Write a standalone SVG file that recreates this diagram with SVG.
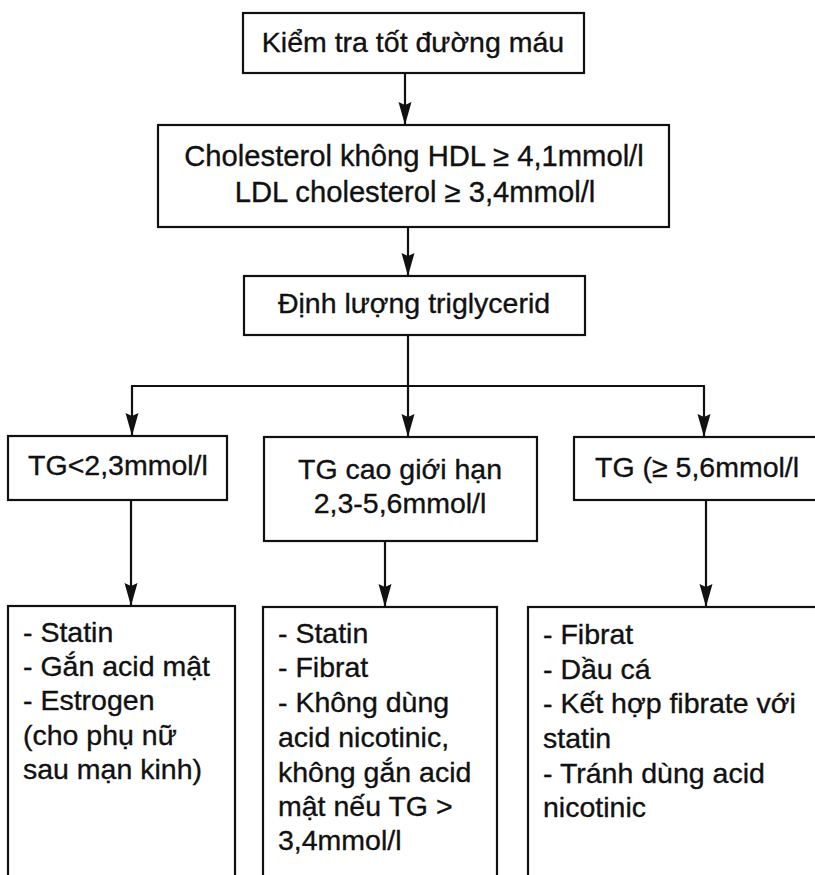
<svg xmlns="http://www.w3.org/2000/svg" width="815" height="875" viewBox="0 0 815 875">
<style>
  .box { fill: #ffffff; stroke: #111111; stroke-width: 2.2; }
  .t { font-family: "Liberation Sans", Arial, sans-serif; font-size: 28.5px; fill: #111111; stroke: #111111; stroke-width: 0.35; }
  .c { text-anchor: middle; }
  .ln { stroke: #111111; stroke-width: 2.2; fill: none; }
</style>
<defs>
  <marker id="arr" markerUnits="userSpaceOnUse" markerWidth="24" markerHeight="14" refX="23" refY="6.5" orient="auto">
    <path d="M0,0 L23,6.5 L0,13 L3,6.5 Z" fill="#111111"/>
  </marker>
</defs>
<rect x="0" y="0" width="815" height="875" fill="#ffffff"/>

<g id="connectors">
  <line class="ln" x1="405" y1="73" x2="405" y2="125" marker-end="url(#arr)"/>
  <line class="ln" x1="408" y1="227" x2="408" y2="276" marker-end="url(#arr)"/>
  <line class="ln" x1="408" y1="335" x2="408" y2="386"/>
  <line class="ln" x1="131" y1="386" x2="705" y2="386"/>
  <line class="ln" x1="132" y1="386" x2="132" y2="436" marker-end="url(#arr)"/>
  <line class="ln" x1="408" y1="386" x2="408" y2="437" marker-end="url(#arr)"/>
  <line class="ln" x1="704" y1="386" x2="704" y2="437" marker-end="url(#arr)"/>
  <line class="ln" x1="131" y1="500" x2="131" y2="606" marker-end="url(#arr)"/>
  <line class="ln" x1="385" y1="541" x2="385" y2="607" marker-end="url(#arr)"/>
  <line class="ln" x1="706" y1="500" x2="706" y2="607" marker-end="url(#arr)"/>
</g>

<g id="n-kiemtra">
  <rect class="box" x="243" y="13" width="341" height="60"/>
  <text class="t c" x="413" y="52">Kiểm tra tốt đường máu</text>
</g>

<g id="n-cholesterol">
  <rect class="box" x="158" y="125" width="511" height="102"/>
  <text class="t c" x="414" y="166" style="font-size:29.2px">Cholesterol không HDL ≥ 4,1mmol/l</text>
  <text class="t c" x="415" y="202" style="font-size:29.2px">LDL cholesterol ≥ 3,4mmol/l</text>
</g>

<g id="n-dinhluong">
  <rect class="box" x="244" y="276" width="341" height="59"/>
  <text class="t c" x="414" y="313">Định lượng triglycerid</text>
</g>

<g id="n-tg-low">
  <rect class="box" x="8" y="436" width="219" height="64"/>
  <text class="t c" x="118" y="475">TG&lt;2,3mmol/l</text>
</g>

<g id="n-tg-mid">
  <rect class="box" x="264" y="437" width="273" height="104"/>
  <text class="t c" x="400" y="479">TG cao giới hạn</text>
  <text class="t c" x="400" y="513">2,3-5,6mmol/l</text>
</g>

<g id="n-tg-high">
  <rect class="box" x="574" y="437" width="260" height="63"/>
  <text class="t" x="595" y="477">TG (≥ 5,6mmol/l</text>
</g>

<g id="n-tx-low">
  <rect class="box" x="8" y="606" width="227" height="300"/>
  <text class="t" x="23" y="642">- Statin</text>
  <text class="t" x="23" y="676">- Gắn acid mật</text>
  <text class="t" x="23" y="710">- Estrogen</text>
  <text class="t" x="23" y="745">(cho phụ nữ</text>
  <text class="t" x="23" y="779">sau mạn kinh)</text>
</g>

<g id="n-tx-mid">
  <rect class="box" x="263" y="607" width="234" height="300"/>
  <text class="t" x="278" y="643">- Statin</text>
  <text class="t" x="278" y="677">- Fibrat</text>
  <text class="t" x="278" y="712">- Không dùng</text>
  <text class="t" x="278" y="747">acid nicotinic,</text>
  <text class="t" x="278" y="782">không gắn acid</text>
  <text class="t" x="278" y="816">mật nếu TG &gt;</text>
  <text class="t" x="278" y="850">3,4mmol/l</text>
</g>

<g id="n-tx-high">
  <rect class="box" x="528" y="607" width="310" height="300"/>
  <text class="t" x="543" y="644">- Fibrat</text>
  <text class="t" x="543" y="679">- Dầu cá</text>
  <text class="t" x="543" y="713">- Kết hợp fibrate với</text>
  <text class="t" x="543" y="748">statin</text>
  <text class="t" x="543" y="783">- Tránh dùng acid</text>
  <text class="t" x="543" y="817">nicotinic</text>
</g>
</svg>
